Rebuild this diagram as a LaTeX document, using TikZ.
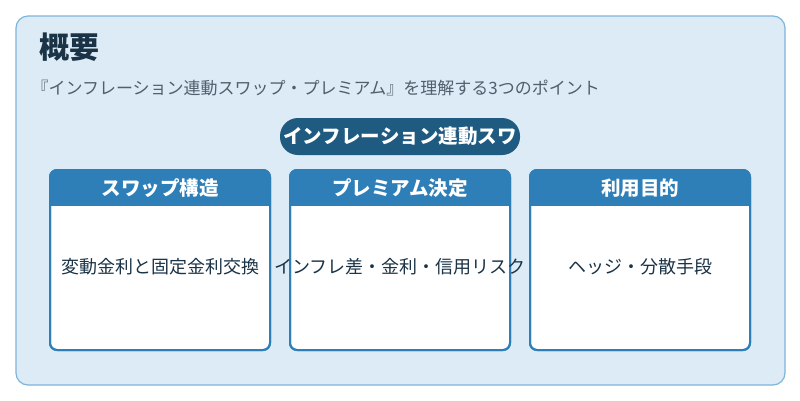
\documentclass[tikz,border=0pt]{standalone}
\usepackage{fontspec}
\setmainfont{Noto Sans CJK JP}
\definecolor{bg}{HTML}{DCEBF6}
\definecolor{bgline}{HTML}{7FB5DA}
\definecolor{hdr}{HTML}{2E7FB8}
\definecolor{pill}{HTML}{1F5A80}
\definecolor{ttl}{HTML}{1A3346}
\definecolor{sub}{HTML}{4F5F6B}
\tikzset{
  card/.style={draw=hdr,line width=2pt,fill=white,rounded corners=7pt},
  cardhead/.style={font=\fontsize{19.5}{22}\selectfont\bfseries,text=white},
  cardbody/.style={font=\fontsize{18}{21}\selectfont,text=ttl}
}
\begin{document}
\begin{tikzpicture}[x=1pt,y=-1pt]
\useasboundingbox (0,0) rectangle (800,400);
\fill[white] (0,0) rectangle (800,400);
\draw[fill=bg,draw=bgline,line width=1.2pt,rounded corners=12pt] (16,16) rectangle (785,385);
\node[anchor=west,font=\fontsize{30}{34}\selectfont\bfseries,text=ttl] (title) at (36,47) {概要};
\node[anchor=west,font=\fontsize{17}{20}\selectfont,text=sub] (subtitle) at (28,88) {『インフレーション連動スワップ・プレミアム』を理解する3つのポイント};
\fill[pill,rounded corners=18pt] (280,118) rectangle (520,155);
\node[font=\fontsize{19.5}{22}\selectfont\bfseries,text=white] (pilltext) at (400,136) {インフレーション連動スワ};
\foreach \x/\h/\b/\n in {50/スワップ構造/変動金利と固定金利交換/a,290/プレミアム決定/インフレ差・金利・信用リスク/b,530/利用目的/ヘッジ・分散手段/c}{
  \draw[card] (\x,170) rectangle ++(220,180);
  \begin{scope}
    \clip[rounded corners=7pt] (\x,170) rectangle ++(220,180);
    \fill[hdr] (\x,170) rectangle ++(220,36);
  \end{scope}
  \draw[hdr,line width=2pt,rounded corners=7pt] (\x,170) rectangle ++(220,180);
  \node[cardhead] (h\n) at (\x+110,188) {\h};
  \node[cardbody] (b\n) at (\x+110,267) {\b};
}
\end{tikzpicture}
\end{document}
